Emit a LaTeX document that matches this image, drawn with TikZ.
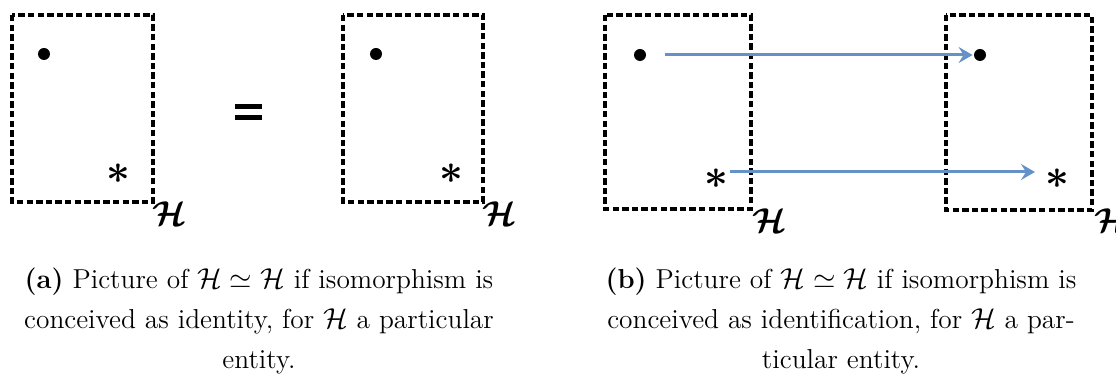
\documentclass[tikz,border=0pt]{standalone}
\usepackage{amsmath,amssymb,bm}
\usetikzlibrary{arrows.meta}
\definecolor{arrowblue}{RGB}{100,146,200}
\tikzset{
  px/.style={x=0.5pt,y=-0.5pt},
  setbox/.style={draw=black,line width=1.6pt,dash pattern=on 3.2pt off 1.6pt},
  dotmark/.style={circle,fill=black,inner sep=0pt,minimum size=6pt},
  starmark/.style={inner sep=0pt,font=\fontsize{22}{22}\selectfont},
  hlabel/.style={inner sep=0pt,font=\fontsize{18}{18}\selectfont},
  ident/.style={-{Stealth[length=7pt,width=8pt,inset=2.5pt]},draw=arrowblue,line width=1.5pt},
  caption/.style={inner sep=0pt,align=center,font=\fontsize{13.7}{20}\selectfont,anchor=north}
}
\newcommand{\bstar}{$\bm{\ast}$}
\begin{document}
\begin{tikzpicture}[px]
\useasboundingbox (0,0) rectangle (1116,378);
% (a)
\draw[setbox] (12,15) rectangle (153,202);
\node[dotmark] (a1dot) at (44,54) {};
\node[starmark] (a1star) at (118,174) {\bstar};
\node[hlabel] (a1h) at (170,214) {$\bm{\mathcal{H}}$};
\draw[setbox] (343,15) rectangle (483,202);
\node[dotmark] (a2dot) at (376,54) {};
\node[starmark] (a2star) at (451,174) {\bstar};
\node[hlabel] (a2h) at (500,214) {$\bm{\mathcal{H}}$};
\node[inner sep=0pt] (eq) at (248,112) {\tikz[px]{\fill (0,0) rectangle (27,4.5); \fill (0,11) rectangle (27,15.5);}};
% (b)
\draw[setbox] (605,15) rectangle (751,209);
\node[dotmark] (b1dot) at (640,55) {};
\node[starmark] (b1star) at (716,179) {\bstar};
\node[hlabel] (b1h) at (770,221) {$\bm{\mathcal{H}}$};
\draw[setbox] (946,15) rectangle (1092,210);
\node[dotmark] (b2dot) at (980,55) {};
\node[starmark] (b2star) at (1057,179) {\bstar};
\node[hlabel] (b2h) at (1112,221) {$\bm{\mathcal{H}}$};
\coordinate (s1) at (730,172);
\coordinate (s2) at (1035,172);
\draw[ident,shorten <=9.5pt,shorten >=0.5pt] (b1dot) -- (b2dot);
\draw[ident] (s1) -- (s2);
% captions
\node[caption] (capa) at (259,268) {\textbf{(a)} Picture of $\mathcal{H}\simeq\mathcal{H}$ if isomorphism is\\conceived as identity, for $\mathcal{H}$ a particular\\entity.};
\node[caption] (capb) at (841,268) {\textbf{(b)} Picture of $\mathcal{H}\simeq\mathcal{H}$ if isomorphism is\\conceived as identification, for $\mathcal{H}$ a par-\\ticular entity.};
\end{tikzpicture}
\end{document}
